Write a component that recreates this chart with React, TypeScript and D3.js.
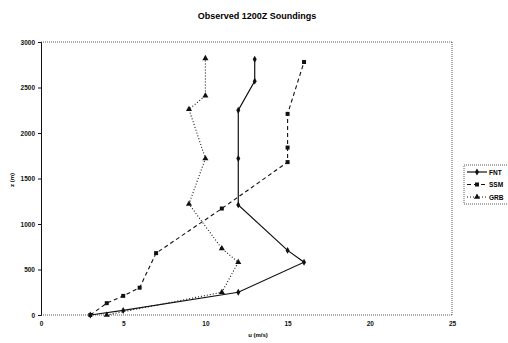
import React, { useRef, useEffect } from "react";
import * as d3 from "d3";

// u (m/s), z (m) pairs
const fntU = [3, 5, 12, 16, 15, 12, 12, 12, 13, 13];
const fntZ = [0, 50, 250, 580, 710, 1210, 1720, 2250, 2570, 2810];
const ssmU = [3, 4, 5, 6, 7, 11, 15, 15, 15, 16];
const ssmZ = [0, 130, 210, 300, 680, 1170, 1680, 1840, 2210, 2780];
const grbU = [4, 11, 12, 11, 9, 10, 9, 10, 10];
const grbZ = [0, 250, 580, 730, 1220, 1720, 2260, 2410, 2820];
const xTicks = [0, 5, 10, 15, 20, 25];
const yTicks = [0, 500, 1000, 1500, 2000, 2500, 3000];

export default function App() {
  const canvas = useRef<SVGSVGElement>(null);

  function drawChart() {
    const svg = d3.select(canvas.current);
    svg.selectAll("*").remove();
    const font = "Arial, 'Liberation Sans', sans-serif";

    const x = d3.scaleLinear().domain([0, 25]).range([41, 452]);
    const y = d3.scaleLinear().domain([0, 3000]).range([315, 42]);

    svg.append("text")
      .text("Observed 1200Z Soundings")
      .attr("x", 257).attr("y", 19)
      .attr("text-anchor", "middle")
      .style("font-family", font).style("font-size", "9px").style("font-weight", "bold");

    // frame: dotted top/right/bottom
    const frame = svg.append("g").attr("fill", "none").attr("stroke", "#333").attr("stroke-width", 0.8).attr("stroke-dasharray", "1,1");
    frame.append("line").attr("x1", x(0)).attr("x2", x(25)).attr("y1", y(3000)).attr("y2", y(3000));
    frame.append("line").attr("x1", x(25)).attr("x2", x(25)).attr("y1", y(3000)).attr("y2", y(0));
    frame.append("line").attr("x1", x(0)).attr("x2", x(25)).attr("y1", y(0)).attr("y2", y(0));

    const yAxis = d3.axisLeft(y).tickValues(yTicks).tickSize(3).tickFormat(d3.format("d"));
    const ya = svg.append("g").attr("transform", `translate(${x(0)},0)`).call(yAxis);
    ya.select(".domain").attr("stroke", "#111").attr("stroke-width", 1);
    ya.selectAll("line").attr("stroke", "#111");
    ya.selectAll("text").style("font-family", font).style("font-size", "6.5px").style("font-weight", "600").attr("fill", "#111").attr("x", -6);

    const xAxis = d3.axisBottom(x).tickValues(xTicks).tickSize(0).tickFormat(d3.format("d"));
    const xa = svg.append("g").attr("transform", `translate(0,${y(0)})`).call(xAxis);
    xa.select(".domain").remove();
    xa.selectAll("text").style("font-family", font).style("font-size", "6.5px").style("font-weight", "600").attr("fill", "#111").attr("dy", "1.2em");

    svg.append("text").text("u (m/s)")
      .attr("x", 258).attr("y", 337).attr("text-anchor", "middle")
      .style("font-family", font).style("font-size", "6px").style("font-weight", "bold");
    svg.append("text").text("z (m)")
      .attr("transform", "translate(14,180) rotate(-90)").attr("text-anchor", "middle")
      .style("font-family", font).style("font-size", "6px").style("font-weight", "bold");

    const series = [
      { name: "FNT", u: fntU, z: fntZ, dash: null, width: 1.2, sym: d3.symbolDiamond, size: 14 },
      { name: "SSM", u: ssmU, z: ssmZ, dash: "4,3", width: 1.1, sym: d3.symbolSquare, size: 16 },
      { name: "GRB", u: grbU, z: grbZ, dash: "1,2", width: 1.1, sym: d3.symbolTriangle, size: 16 },
    ];

    const line = d3.line<[number, number]>().x((d) => x(d[0])).y((d) => y(d[1]));

    series.forEach((s) => {
      const pts: [number, number][] = s.u.map((u, i) => [u, s.z[i]]);
      svg.append("path")
        .attr("d", line(pts))
        .attr("fill", "none").attr("stroke", "#111")
        .attr("stroke-width", s.width)
        .attr("stroke-dasharray", s.dash);
      svg.append("g").selectAll("path")
        .data(pts).enter().append("path")
        .attr("d", d3.symbol().type(s.sym).size(s.size)())
        .attr("transform", (d) => `translate(${x(d[0])},${y(d[1])})`)
        .attr("fill", "#111");
    });

    // legend
    const lg = svg.append("g");
    lg.append("rect").attr("x", 464).attr("y", 165).attr("width", 50).attr("height", 39)
      .attr("fill", "white").attr("stroke", "#333").attr("stroke-width", 0.8).attr("stroke-dasharray", "1,1");
    series.forEach((s, i) => {
      const ly = 172 + i * 12.5;
      lg.append("line").attr("x1", 467).attr("x2", 487).attr("y1", ly).attr("y2", ly)
        .attr("stroke", "#111").attr("stroke-width", s.width).attr("stroke-dasharray", s.dash);
      lg.append("path").attr("d", d3.symbol().type(s.sym).size(s.size)())
        .attr("transform", `translate(477,${ly})`).attr("fill", "#111");
      lg.append("text").text(s.name).attr("x", 489).attr("y", ly + 2.5)
        .style("font-family", font).style("font-size", "6.5px").style("font-weight", "bold");
    });
  }

  useEffect(() => {
    drawChart();
  }, []);

  return (
    <svg ref={canvas} width={508} height={343}
      style={{ position: "absolute", left: 0, top: 0, background: "white" }} />
  );
}
